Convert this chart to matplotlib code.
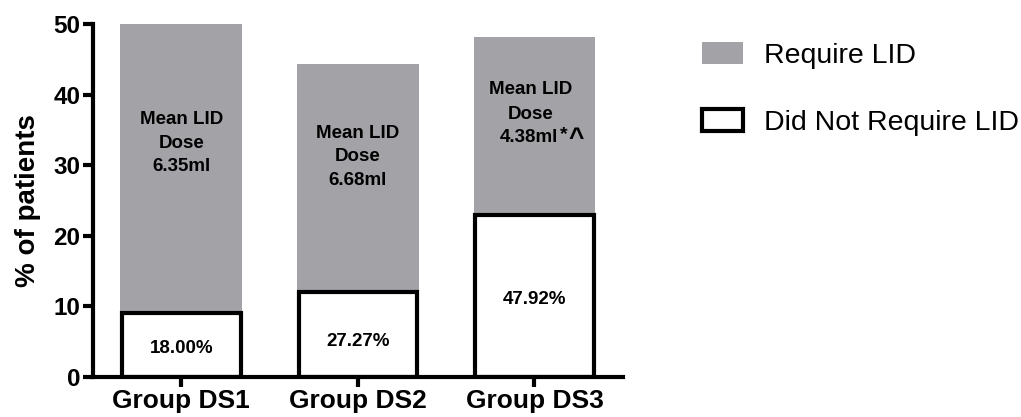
import matplotlib
matplotlib.use("Agg")
import matplotlib.pyplot as plt
from matplotlib.patches import Patch

plt.rcParams['font.family'] = ['Liberation Sans', 'DejaVu Sans']

groups = ["Group DS1", "Group DS2", "Group DS3"]
did_not_require = [9.0, 12.0, 23.0]
require = [41.0, 32.3, 25.2]
pct_labels = ["18.00%", "27.27%", "47.92%"]
pct_label_y = [4.1, 5.0, 11.0]
dose_values = ["6.35ml", "6.68ml", "4.38ml"]
dose_label_y = [33.1, 31.2, 37.2]
grey = "#a3a2a7"

fig = plt.figure(figsize=(10.21, 4.17), dpi=100)
ax = fig.add_axes([0.091, 0.096, 0.519, 0.846])

x = list(range(len(groups)))
ax.bar(x, require, bottom=did_not_require, width=0.69, color=grey, edgecolor='none', zorder=1)
ax.bar(x, did_not_require, width=0.672, color='white', edgecolor='black', linewidth=3, zorder=2)

fs_in = 13.5
for i in x:
    ax.text(i, pct_label_y[i], pct_labels[i], ha='center', va='center',
            fontsize=fs_in, fontweight='bold', zorder=3)
    if i < 2:
        ax.text(i, dose_label_y[i], "Mean LID\nDose\n" + dose_values[i], ha='center', va='center',
                fontsize=fs_in, fontweight='bold', linespacing=1.5, zorder=3)
    else:
        ax.text(i - 0.02, dose_label_y[i] + 3.6, "Mean LID", ha='center', va='center',
                fontsize=fs_in, fontweight='bold', zorder=3)
        ax.text(i - 0.02, dose_label_y[i], "Dose", ha='center', va='center',
                fontsize=fs_in, fontweight='bold', zorder=3)
        ax.text(i - 0.195, dose_label_y[i] - 3.3, dose_values[i], ha='left', va='center',
                fontsize=fs_in, fontweight='bold', zorder=3)
        ax.text(i + 0.145, dose_label_y[i] - 2.9, "*", ha='left', va='center',
                fontsize=14, fontweight='bold', zorder=3)
        ax.text(i + 0.19, dose_label_y[i] - 3.5, "^", ha='left', va='center',
                fontsize=19, fontweight='bold', zorder=3)

ax.set_xlim(-0.5, 2.5)
ax.set_ylim(0, 50)
ax.set_yticks([0, 10, 20, 30, 40, 50])
ax.set_xticks(x)
ax.set_xticklabels(groups, fontsize=19, fontweight='bold')
for lab in ax.get_yticklabels():
    lab.set_fontsize(17.5)
    lab.set_fontweight('bold')
ax.set_ylabel("% of patients", fontsize=20, fontweight='bold', labelpad=9)

for s in ['top', 'right']:
    ax.spines[s].set_visible(False)
for s in ['left', 'bottom']:
    ax.spines[s].set_linewidth(3)
ax.tick_params(axis='both', width=3, length=7, pad=2)

handles = [Patch(facecolor=grey, edgecolor='none', label="Require LID"),
           Patch(facecolor='white', edgecolor='black', linewidth=3, label="Did Not Require LID")]
fig.legend(handles=handles, loc='upper left', bbox_to_anchor=(0.662, 0.96), frameon=False,
           fontsize=20.5, labelspacing=1.4, handlelength=1.45, handleheight=0.8, handletextpad=0.75)

fig.savefig("out.png", dpi=100)
